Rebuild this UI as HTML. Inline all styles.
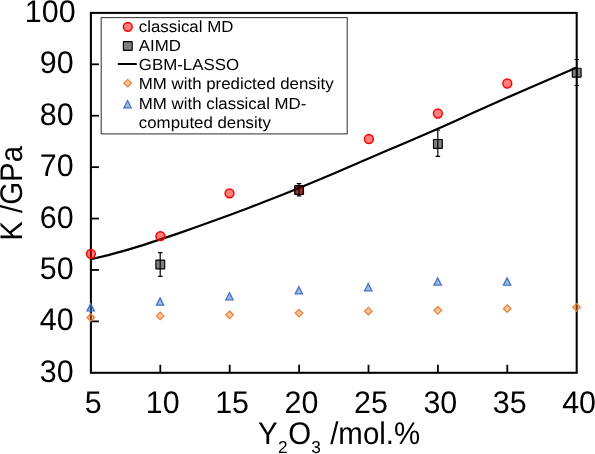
<!DOCTYPE html>
<html><head><meta charset="utf-8"><title>K vs Y2O3</title>
<style>
html,body{margin:0;padding:0;background:#fff;}
body{width:595px;height:454px;overflow:hidden;}
svg{display:block;font-family:"Liberation Sans",Arial,Helvetica,sans-serif;}
text{fill:#000;text-rendering:geometricPrecision;}
</style></head><body>
<svg width="595" height="454" viewBox="0 0 595 454">
<rect width="595" height="454" fill="#fff"/>
<rect x="90.9" y="12.9" width="485.80" height="359.90" fill="none" stroke="#000" stroke-width="2.05"/>
<line x1="90.9" y1="321.39" x2="98.9" y2="321.39" stroke="#000" stroke-width="1.8"/>
<line x1="90.9" y1="269.97" x2="98.9" y2="269.97" stroke="#000" stroke-width="1.8"/>
<line x1="90.9" y1="218.56" x2="98.9" y2="218.56" stroke="#000" stroke-width="1.8"/>
<line x1="90.9" y1="167.14" x2="98.9" y2="167.14" stroke="#000" stroke-width="1.8"/>
<line x1="90.9" y1="115.73" x2="98.9" y2="115.73" stroke="#000" stroke-width="1.8"/>
<line x1="90.9" y1="64.31" x2="98.9" y2="64.31" stroke="#000" stroke-width="1.8"/>
<line x1="160.30" y1="372.8" x2="160.30" y2="364.8" stroke="#000" stroke-width="1.8"/>
<line x1="229.70" y1="372.8" x2="229.70" y2="364.8" stroke="#000" stroke-width="1.8"/>
<line x1="299.10" y1="372.8" x2="299.10" y2="364.8" stroke="#000" stroke-width="1.8"/>
<line x1="368.50" y1="372.8" x2="368.50" y2="364.8" stroke="#000" stroke-width="1.8"/>
<line x1="437.90" y1="372.8" x2="437.90" y2="364.8" stroke="#000" stroke-width="1.8"/>
<line x1="507.30" y1="372.8" x2="507.30" y2="364.8" stroke="#000" stroke-width="1.8"/>
<text transform="translate(73.60 381.80) scale(0.972 1)" font-size="31.3" text-anchor="end">30</text>
<text transform="translate(73.60 330.39) scale(0.972 1)" font-size="31.3" text-anchor="end">40</text>
<text transform="translate(73.60 278.97) scale(0.972 1)" font-size="31.3" text-anchor="end">50</text>
<text transform="translate(73.60 227.56) scale(0.972 1)" font-size="31.3" text-anchor="end">60</text>
<text transform="translate(73.60 176.14) scale(0.972 1)" font-size="31.3" text-anchor="end">70</text>
<text transform="translate(73.60 124.73) scale(0.972 1)" font-size="31.3" text-anchor="end">80</text>
<text transform="translate(73.60 73.31) scale(0.972 1)" font-size="31.3" text-anchor="end">90</text>
<text transform="translate(75.60 22.20) scale(0.972 1)" font-size="31.3" text-anchor="end">100</text>
<text transform="translate(93.30 413.20) scale(0.972 1)" font-size="31.3" text-anchor="middle">5</text>
<text transform="translate(162.70 413.20) scale(0.972 1)" font-size="31.3" text-anchor="middle">10</text>
<text transform="translate(232.10 413.20) scale(0.972 1)" font-size="31.3" text-anchor="middle">15</text>
<text transform="translate(301.50 413.20) scale(0.972 1)" font-size="31.3" text-anchor="middle">20</text>
<text transform="translate(370.90 413.20) scale(0.972 1)" font-size="31.3" text-anchor="middle">25</text>
<text transform="translate(440.30 413.20) scale(0.972 1)" font-size="31.3" text-anchor="middle">30</text>
<text transform="translate(509.70 413.20) scale(0.972 1)" font-size="31.3" text-anchor="middle">35</text>
<text transform="translate(579.10 413.20) scale(0.972 1)" font-size="31.3" text-anchor="middle">40</text>
<text transform="translate(21.70 193.40) rotate(-90) scale(0.94 1)" font-size="31.3" text-anchor="middle">K /GPa</text>
<text transform="translate(258.10 444.00) scale(0.94 1)" font-size="31.3" text-anchor="start">Y</text>
<text transform="translate(278.00 453.00)" font-size="17.2" text-anchor="start">2</text>
<text transform="translate(288.20 444.00) scale(0.94 1)" font-size="31.3" text-anchor="start">O</text>
<text transform="translate(311.20 453.00)" font-size="17.2" text-anchor="start">3</text>
<text transform="translate(330.20 444.00) scale(0.94 1)" font-size="31.3" text-anchor="start">/mol.%</text>
<polyline points="90.9,259.2 108.3,255.1 125.6,250.4 143.0,245.1 160.3,239.4 177.7,233.6 195.0,227.5 212.4,221.3 229.7,215.0 247.1,208.5 264.4,201.8 281.8,194.9 299.1,187.9 316.5,180.7 333.8,173.4 351.2,165.9 368.5,158.5 385.9,151.1 403.2,143.7 420.6,136.3 437.9,128.7 455.3,121.0 472.6,113.1 490.0,105.2 507.3,97.5 524.7,89.9 542.0,82.4 559.4,74.9 576.7,67.5" fill="none" stroke="#000" stroke-width="2.2" stroke-linejoin="round"/>
<ellipse cx="90.90" cy="253.80" rx="4.4" ry="4.4" fill="#ff0000" fill-opacity="0.5" stroke="#ff0000" stroke-width="1.5"/>
<ellipse cx="160.40" cy="236.20" rx="4.4" ry="4.4" fill="#ff0000" fill-opacity="0.5" stroke="#ff0000" stroke-width="1.5"/>
<ellipse cx="229.50" cy="193.30" rx="4.4" ry="4.4" fill="#ff0000" fill-opacity="0.5" stroke="#ff0000" stroke-width="1.5"/>
<ellipse cx="298.90" cy="190.60" rx="4.4" ry="4.4" fill="#ff0000" fill-opacity="0.5" stroke="#ff0000" stroke-width="1.5"/>
<ellipse cx="368.90" cy="139.00" rx="4.4" ry="4.4" fill="#ff0000" fill-opacity="0.5" stroke="#ff0000" stroke-width="1.5"/>
<ellipse cx="437.85" cy="113.50" rx="4.4" ry="4.4" fill="#ff0000" fill-opacity="0.5" stroke="#ff0000" stroke-width="1.5"/>
<ellipse cx="507.30" cy="83.50" rx="4.4" ry="4.4" fill="#ff0000" fill-opacity="0.5" stroke="#ff0000" stroke-width="1.5"/>
<path d="M160.20 252.60V276.30M158.00 252.60h4.5M158.00 276.30h4.5" stroke="#000" stroke-width="1.2" fill="none"/>
<rect x="155.90" y="260.05" width="8.8" height="8.9" rx="0.4" fill="#000" fill-opacity="0.5" stroke="#000" stroke-width="1.15"/>
<path d="M299.00 183.70V196.00M296.80 183.70h4.5M296.80 196.00h4.5" stroke="#000" stroke-width="1.2" fill="none"/>
<rect x="294.70" y="185.55" width="8.8" height="8.9" rx="0.4" fill="#000" fill-opacity="0.5" stroke="#000" stroke-width="1.15"/>
<path d="M437.80 130.00V156.30M435.60 130.00h4.5M435.60 156.30h4.5" stroke="#000" stroke-width="1.2" fill="none"/>
<rect x="433.50" y="139.45" width="8.8" height="8.9" rx="0.4" fill="#000" fill-opacity="0.5" stroke="#000" stroke-width="1.15"/>
<path d="M576.60 59.50V85.50M574.40 59.50h4.5M574.40 85.50h4.5" stroke="#000" stroke-width="1.2" fill="none"/>
<rect x="572.30" y="68.25" width="8.8" height="8.9" rx="0.4" fill="#000" fill-opacity="0.5" stroke="#000" stroke-width="1.15"/>
<path d="M90.80 313.72L94.58 317.50L90.80 321.28L87.02 317.50Z" fill="#ed7d31" fill-opacity="0.45" stroke="#ed7d31" stroke-width="1.2"/>
<path d="M160.20 312.12L163.98 315.90L160.20 319.68L156.42 315.90Z" fill="#ed7d31" fill-opacity="0.45" stroke="#ed7d31" stroke-width="1.2"/>
<path d="M229.60 311.02L233.38 314.80L229.60 318.58L225.82 314.80Z" fill="#ed7d31" fill-opacity="0.45" stroke="#ed7d31" stroke-width="1.2"/>
<path d="M299.00 309.32L302.78 313.10L299.00 316.88L295.22 313.10Z" fill="#ed7d31" fill-opacity="0.45" stroke="#ed7d31" stroke-width="1.2"/>
<path d="M368.40 307.42L372.18 311.20L368.40 314.98L364.62 311.20Z" fill="#ed7d31" fill-opacity="0.45" stroke="#ed7d31" stroke-width="1.2"/>
<path d="M437.80 306.52L441.58 310.30L437.80 314.08L434.02 310.30Z" fill="#ed7d31" fill-opacity="0.45" stroke="#ed7d31" stroke-width="1.2"/>
<path d="M507.20 304.87L510.98 308.65L507.20 312.43L503.42 308.65Z" fill="#ed7d31" fill-opacity="0.45" stroke="#ed7d31" stroke-width="1.2"/>
<path d="M576.60 303.52L580.38 307.30L576.60 311.08L572.82 307.30Z" fill="#ed7d31" fill-opacity="0.45" stroke="#ed7d31" stroke-width="1.2"/>
<path d="M90.65 303.60L94.35 310.85H86.95Z" fill="#4472c4" fill-opacity="0.5" stroke="#4472c4" stroke-width="1.25" stroke-linejoin="miter"/>
<path d="M160.05 297.85L163.75 305.10H156.35Z" fill="#4472c4" fill-opacity="0.5" stroke="#4472c4" stroke-width="1.25" stroke-linejoin="miter"/>
<path d="M229.45 292.60L233.15 299.85H225.75Z" fill="#4472c4" fill-opacity="0.5" stroke="#4472c4" stroke-width="1.25" stroke-linejoin="miter"/>
<path d="M298.85 286.65L302.55 293.90H295.15Z" fill="#4472c4" fill-opacity="0.5" stroke="#4472c4" stroke-width="1.25" stroke-linejoin="miter"/>
<path d="M368.25 283.55L371.95 290.80H364.55Z" fill="#4472c4" fill-opacity="0.5" stroke="#4472c4" stroke-width="1.25" stroke-linejoin="miter"/>
<path d="M437.65 277.85L441.35 285.10H433.95Z" fill="#4472c4" fill-opacity="0.5" stroke="#4472c4" stroke-width="1.25" stroke-linejoin="miter"/>
<path d="M507.05 277.85L510.75 285.10H503.35Z" fill="#4472c4" fill-opacity="0.5" stroke="#4472c4" stroke-width="1.25" stroke-linejoin="miter"/>
<rect x="101.2" y="17.6" width="246.0" height="116.3" fill="#fff" stroke="#404040" stroke-width="1.1"/>
<ellipse cx="127.80" cy="26.80" rx="4.4" ry="4.4" fill="#ff0000" fill-opacity="0.5" stroke="#ff0000" stroke-width="1.5"/>
<rect x="123.40" y="41.55" width="8.8" height="8.9" rx="0.4" fill="#000" fill-opacity="0.5" stroke="#000" stroke-width="1.15"/>
<line x1="117.8" y1="64" x2="136.8" y2="64" stroke="#000" stroke-width="2"/>
<path d="M127.70 79.42L131.48 83.20L127.70 86.98L123.92 83.20Z" fill="#ed7d31" fill-opacity="0.45" stroke="#ed7d31" stroke-width="1.2"/>
<path d="M127.55 100.55L131.25 107.80H123.85Z" fill="#4472c4" fill-opacity="0.5" stroke="#4472c4" stroke-width="1.25" stroke-linejoin="miter"/>
<text transform="translate(138.80 31.80) scale(1.047 1)" font-size="16.1" text-anchor="start">classical MD</text>
<text transform="translate(138.80 51.00) scale(1.047 1)" font-size="16.1" text-anchor="start">AIMD</text>
<text transform="translate(138.80 69.70) scale(1.047 1)" font-size="16.1" text-anchor="start">GBM-LASSO</text>
<text transform="translate(138.80 89.00) scale(1.047 1)" font-size="16.1" text-anchor="start">MM with predicted density</text>
<text transform="translate(138.80 108.70) scale(1.047 1)" font-size="16.1" text-anchor="start">MM with classical MD-</text>
<text transform="translate(138.80 127.50) scale(1.047 1)" font-size="16.1" text-anchor="start">computed density</text>
</svg></body></html>
